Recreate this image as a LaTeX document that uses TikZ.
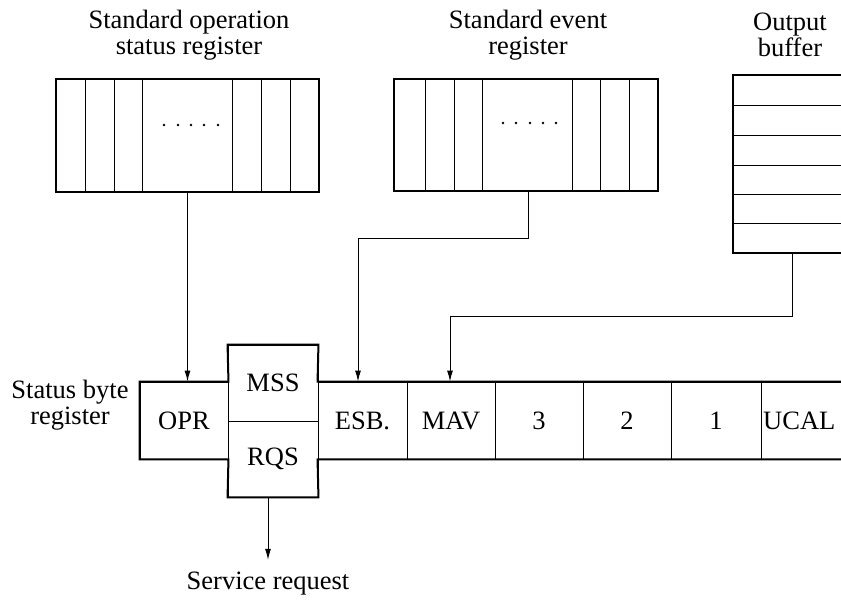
\documentclass[tikz,border=0pt]{standalone}
\usepackage{fontspec}
\setmainfont{Liberation Serif}
\usetikzlibrary{arrows.meta}
\begin{document}
\begin{tikzpicture}[x=1pt,y=-1pt,
  every node/.style={font=\fontsize{26.5}{25.5}\selectfont},
  thinline/.style={line width=0.9pt},
  outline/.style={line width=2pt, line join=miter, line cap=rect},
  cell/.style={draw, line width=0.9pt, minimum height=77pt, inner sep=0pt, anchor=center},
  reg/.style={draw, line width=2pt, inner sep=0pt},
  conn/.style={line width=1pt, -{Latex[length=11pt,width=6pt]}},
]
\useasboundingbox (0,0) rectangle (841,603);
\clip (0,0) rectangle (841,603);

% titles
\node[align=center] (t1) at (189,35) {Standard operation\\status register};
\node[align=center] (t2) at (528,35) {Standard event\\register};
\node[align=center] (t3) at (790,35) {Output\\buffer};

% standard operation status register
\foreach \x in {85,114,142,232,261,290} \draw[thinline] (\x,79) -- (\x,192);
\node[reg, minimum width=263pt, minimum height=113pt] (opsr) at (187.5,135.5) {};
\foreach \x in {164,178,191,204,218} \fill (\x,125) circle (1.3pt);

% standard event register
\foreach \x in {425,454,482,572,600,629} \draw[thinline] (\x,79) -- (\x,191);
\node[reg, minimum width=264pt, minimum height=112pt] (ser) at (526,135) {};
\foreach \x in {503,516,530,543,556} \fill (\x,123) circle (1.3pt);

% output buffer
\foreach \y in {105,135,165,194,223} \draw[thinline] (733,\y) -- (845,\y);
\node[reg, minimum width=147pt, minimum height=178pt] (obuf) at (806.5,164) {};

% status byte register
\node[cell, minimum width=88pt] (opr) at (184,420.5) {OPR};
\node[cell, minimum width=90pt, minimum height=76pt] (mss) at (273,383) {MSS};
\node[cell, minimum width=90pt, minimum height=76pt] (rqs) at (273,459) {RQS};
\node[cell, minimum width=89pt] (esb) at (362.5,420.5) {ESB.};
\node[cell, minimum width=88pt] (mav) at (451,420.5) {MAV};
\node[cell, minimum width=88pt] (b3) at (539,420.5) {3};
\node[cell, minimum width=88pt] (b2) at (627,420.5) {2};
\node[cell, minimum width=90pt] (b1) at (716,420.5) {1};
\node[cell, minimum width=120pt] (ucal) at (821,420.5) {};
\node[anchor=west, inner sep=0pt] (ucalt) at (763,420.5) {UCAL};

\draw[outline] (opr.north west) -- (opr.north east) -- (mss.north west) -- (mss.north east)
  -- (esb.north west) -- (ucal.north east)
  (ucal.south east) -- (esb.south west) -- (rqs.south east) -- (rqs.south west)
  -- (opr.south east) -- (opr.south west) -- (opr.north west);

\node[align=center] (sbr) at (70,405) {Status byte\\register};
\node (srq) at (268,584) {Service request};

% connectors
\draw[conn] (opsr.south) -- (opsr.south |- opr.north);
\draw[conn] ([xshift=2pt]ser.south) -- ++(0,46) -| ([xshift=-4.5pt]esb.north);
\draw[conn] ([xshift=-14.5pt]obuf.south) -- ++(0,62) -| ([xshift=-1pt]mav.north);
\draw[conn] (srq.north |- rqs.south) -- ([yshift=9pt]srq.north);
\end{tikzpicture}
\end{document}
